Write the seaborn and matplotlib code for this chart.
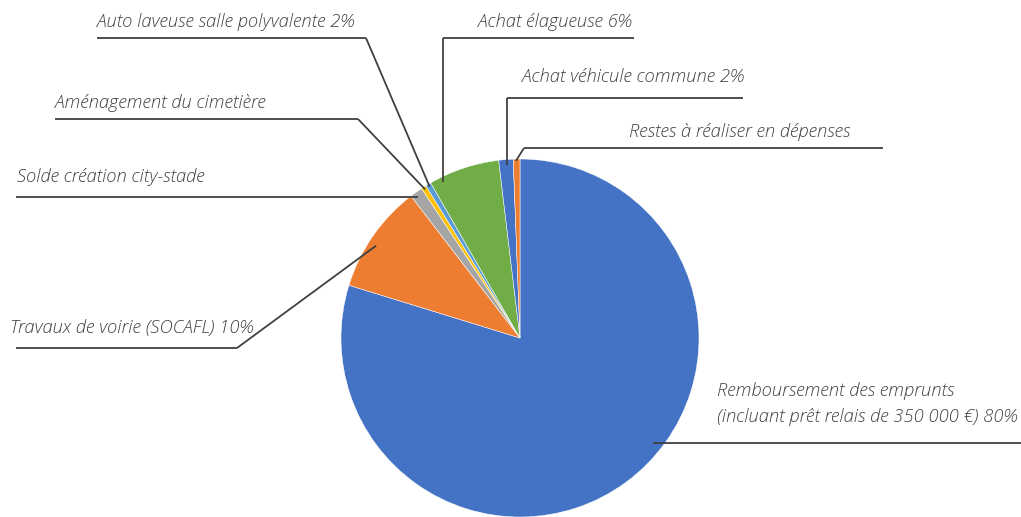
import matplotlib
matplotlib.use("Agg")
import matplotlib.pyplot as plt
import seaborn as sns
import numpy as np

# ---------------- data ----------------
categories = [
    "Remboursement des emprunts",
    "Travaux de voirie (SOCAFL)",
    "Solde création city-stade",
    "Aménagement du cimetière",
    "Auto laveuse salle polyvalente",
    "Achat élagueuse",
    "Achat véhicule commune",
    "Restes à réaliser en dépenses",
]
values = [79.6, 9.8, 1.15, 0.45, 0.5, 6.4, 1.3, 0.6]
label_texts = [
    ["Remboursement des emprunts", "(incluant prêt relais de 350 000 €) 80%"],
    ["Travaux de voirie (SOCAFL) 10%"],
    ["Solde création city-stade"],
    ["Aménagement du cimetière"],
    ["Auto laveuse salle polyvalente 2%"],
    ["Achat élagueuse 6%"],
    ["Achat véhicule commune 2%"],
    ["Restes à réaliser en dépenses"],
]
colors = ["#4472C4", "#ED7D31", "#A5A5A5", "#FFC000",
          "#5B9BD5", "#70AD47", "#4472C4", "#ED7D31"]

# ---------------- layout (pixel coords, y from top) ----------------
W, H = 1021, 517
CX, CY, R = 520, 338, 179
# anchor: (fraction along wedge, radius fraction); elbow: (x, y) or 'vertical'
layout = [
    dict(anchor=(0.553, 0.95), elbow=None, uline=(None, 1021, 443), text=(717, [396, 422])),
    dict(anchor=(0.56, 0.955), elbow=(237, 348), uline=(16, 237, 348), text=(10, [333])),
    dict(anchor=(0.5, 0.98), elbow=None, uline=(16, None, 197), text=(17, [182])),
    dict(anchor=(0.5, 0.985), elbow=(358, 119), uline=(55, 358, 119), text=(55, [108])),
    dict(anchor=(0.5, 0.985), elbow=(366, 38), uline=(97, 366, 38), text=(97, [27])),
    dict(anchor=(0.84, 0.97), elbow="vertical", uline=(None, 634, 38), text=(478, [27])),
    dict(anchor=(0.43, 0.97), elbow="vertical", uline=(None, 743, 98), text=(522, [82])),
    dict(anchor=(0.6, 0.99), elbow=(524, 148), uline=(524, 883, 148), text=(629, [137])),
]

sns.set_theme(style="white")
plt.rcParams["font.family"] = ["Open Sans", "DejaVu Sans"]

fig = plt.figure(figsize=(W / 100, H / 100), dpi=100)
ax = fig.add_axes([0, 0, 1, 1])


def Y(p):
    return H - p


wedges, _ = ax.pie(values, colors=colors, startangle=90, counterclock=False,
                   center=(CX, Y(CY)), radius=R, frame=True,
                   wedgeprops=dict(edgecolor="white", linewidth=0.35))
ax.set_xlim(0, W)
ax.set_ylim(0, H)
ax.set_aspect("equal")
ax.axis("off")

line_kw = dict(color="#404040", lw=1.3, solid_capstyle="butt")
text_kw = dict(fontstyle="italic", fontweight="light", color="#404040",
               fontsize=13.2, ha="left", va="baseline")

for w, lay, lines in zip(wedges, layout, label_texts):
    t, rf = lay["anchor"]
    ang = np.deg2rad(w.theta1 + t * (w.theta2 - w.theta1))
    ax_x = CX + rf * R * np.cos(ang)
    ax_y = Y(CY) + rf * R * np.sin(ang)
    x0, x1, uy = lay["uline"]
    if lay["elbow"] == "vertical":
        ex, ey = ax_x, Y(uy)
        ax.plot([ax_x, ex], [ax_y, ey], **line_kw)
        x0 = ax_x
    elif lay["elbow"] is not None:
        ex, ey = lay["elbow"]
        ax.plot([ax_x, ex], [ax_y, Y(ey)], **line_kw)
    if x0 is None:
        x0 = ax_x
    if x1 is None:
        x1 = ax_x
    ax.plot([x0, x1], [Y(uy), Y(uy)], **line_kw)
    tx, bys = lay["text"]
    for s, by in zip(lines, bys):
        ax.text(tx, Y(by), s, **text_kw)

fig.savefig("out.png", dpi=100, facecolor="white")
